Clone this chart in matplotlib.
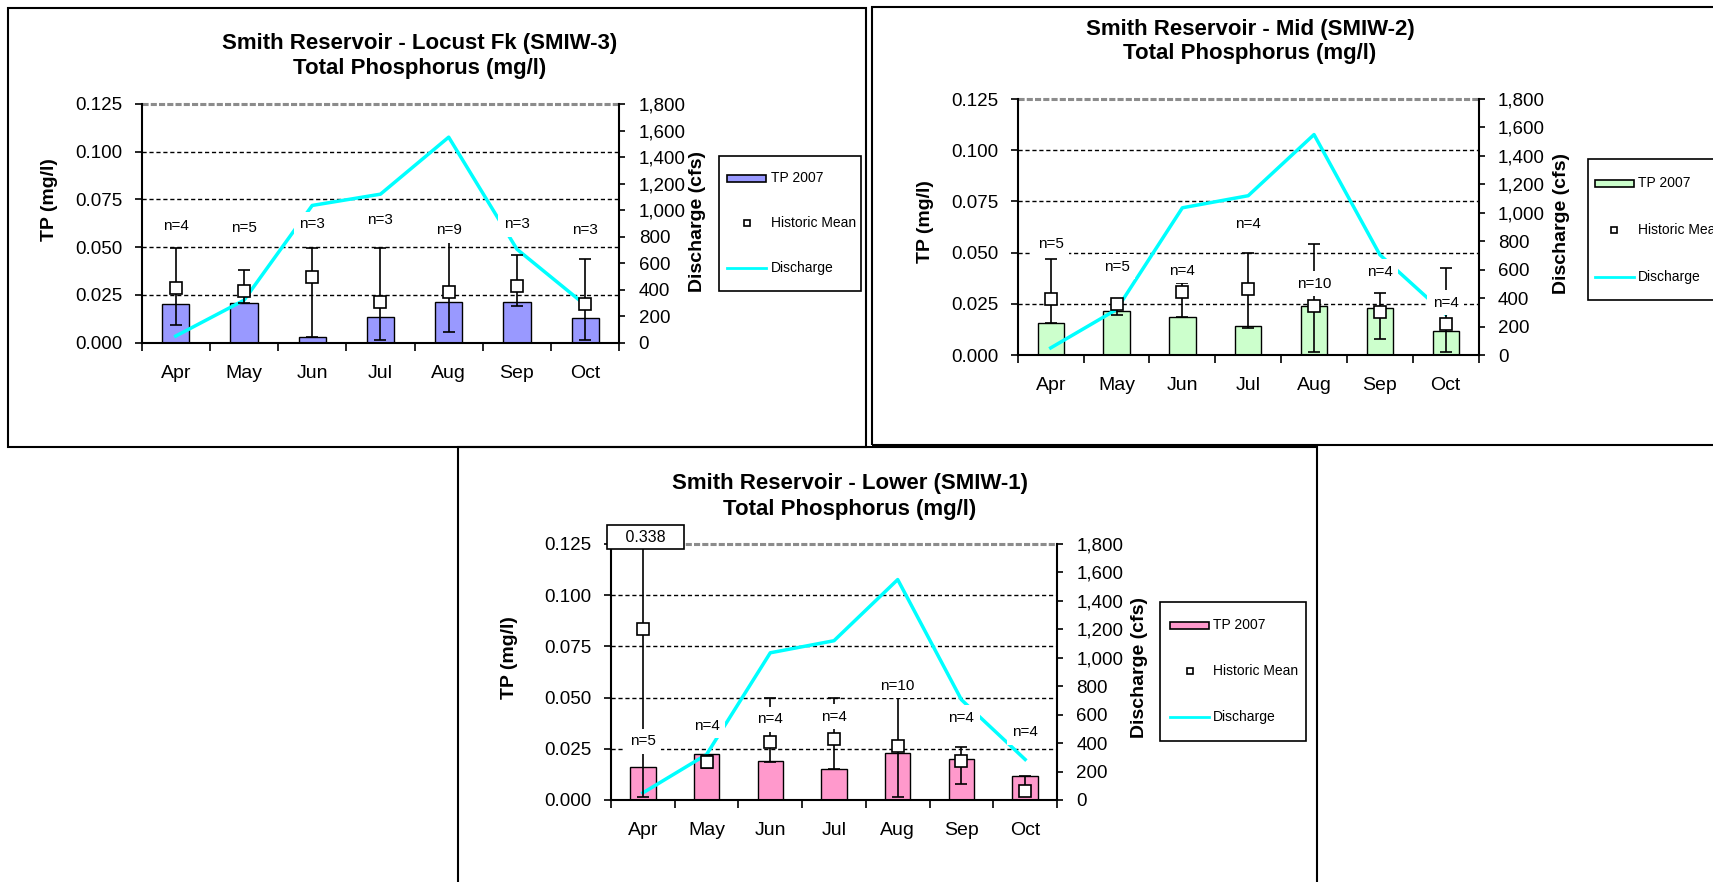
import matplotlib
matplotlib.use('Agg')
import matplotlib.pyplot as plt
from matplotlib.patches import Rectangle
from matplotlib.lines import Line2D
from matplotlib.ticker import FuncFormatter

plt.rcParams['font.family'] = ['Liberation Sans', 'DejaVu Sans']

# shared data
months = ['Apr', 'May', 'Jun', 'Jul', 'Aug', 'Sep', 'Oct']
discharge = [50, 320, 1035, 1120, 1550, 705, 285]

# Locust Fk (SMIW-3)
locust_tp = [0.0201, 0.0206, 0.0028, 0.0134, 0.0213, 0.0213, 0.0127]
locust_mean = [0.0286, 0.0269, 0.0346, 0.0215, 0.0265, 0.0299, 0.0201]
locust_hi = [0.0494, 0.0381, 0.0494, 0.0494, 0.0534, 0.0459, 0.0436]
locust_lo = [0.0093, 0.0206, 0.0028, 0.0014, 0.0054, 0.0192, 0.0014]
locust_n = [4, 5, 3, 3, 9, 3, 3]
locust_n_y = [0.061, 0.060, 0.062, 0.064, 0.059, 0.062, 0.059]

# Mid (SMIW-2)
mid_tp = [0.0158, 0.0216, 0.0186, 0.0142, 0.0239, 0.0229, 0.0119]
mid_mean = [0.0272, 0.0249, 0.0309, 0.0324, 0.0239, 0.0208, 0.0150]
mid_hi = [0.0467, 0.0273, 0.0353, 0.0496, 0.0540, 0.0303, 0.0423]
mid_lo = [0.0158, 0.0195, 0.0186, 0.0132, 0.0013, 0.0080, 0.0013]
mid_n = [5, 5, 4, 4, 10, 4, 4]
mid_n_y = [0.054, 0.0431, 0.0412, 0.064, 0.0348, 0.0407, 0.0256]

# Lower (SMIW-1)
lower_tp = [0.0163, 0.0223, 0.0192, 0.0150, 0.0231, 0.0200, 0.0117]
lower_mean = [0.0833, 0.0184, 0.0283, 0.0296, 0.0264, 0.0190, 0.0046]
lower_hi = [0.338, 0.0220, 0.0500, 0.0500, 0.0505, 0.0260, 0.0117]
lower_lo = [0.0016, 0.0155, 0.0187, 0.0150, 0.0013, 0.0076, 0.0020]
lower_n = [5, 4, 4, 4, 10, 4, 4]
lower_n_y = [0.0288, 0.0363, 0.0394, 0.0407, 0.0558, 0.0402, 0.033]

tp_ticks = [0.0, 0.025, 0.05, 0.075, 0.1, 0.125]
q_ticks = list(range(0, 1801, 200))

W, H = 1713, 882


def rect(x0, y0, x1, y1):
    return [x0 / W, 1 - y1 / H, (x1 - x0) / W, (y1 - y0) / H]


def draw_legend(fig, box, color, rows, patch_x, text_x):
    x0, y0, x1, y1 = box
    fig.add_artist(Rectangle((x0 / W, 1 - y1 / H), (x1 - x0) / W, (y1 - y0) / H,
                             transform=fig.transFigure, fc='white', ec='black', lw=1.2))
    r1, r2, r3 = rows
    fig.add_artist(Rectangle((patch_x / W, 1 - (r1 + 3.5) / H), 39 / W, 7 / H,
                             transform=fig.transFigure, fc=color, ec='black', lw=1.2))
    fig.add_artist(Line2D([(patch_x + 19.5) / W], [1 - r2 / H], transform=fig.transFigure,
                          marker='s', ms=5, mfc='white', mec='black', mew=1.2, ls='none'))
    fig.add_artist(Line2D([patch_x / W, (patch_x + 39) / W], [1 - r3 / H, 1 - r3 / H],
                          transform=fig.transFigure, color='#00FFFF', lw=2))
    for r, lab in zip(rows, ['TP 2007', 'Historic Mean', 'Discharge']):
        fig.text(text_x / W, 1 - r / H, lab, fontsize=10, ha='left', va='center')


def draw_panel(fig, lay, title, color, tp, mean, hi, lo, n, n_y):
    ax = fig.add_axes(rect(*lay['axes']))
    ax2 = ax.twinx()
    x = list(range(len(months)))

    ax.set_xlim(-0.5, len(months) - 0.5)
    ax.set_ylim(0, 0.125)
    ax2.set_ylim(0, 1800)

    for t in tp_ticks[1:-1]:
        ax.axhline(t, color='black', lw=1, ls=(0, (3, 2)), zorder=1)
    ax.axhline(0.125, color='#8c8c8c', lw=2.2, ls=(0, (2, 0.7)), zorder=1, clip_on=False)

    ax.bar(x, tp, width=0.4, color=color, edgecolor='black', linewidth=1, zorder=2)
    ax.plot(x, discharge, color='#00FFFF', lw=2.5, zorder=3, transform=ax2.transData)
    yerr = [[m - l for m, l in zip(mean, lo)], [h - m for h, m in zip(hi, mean)]]
    ax.errorbar(x, mean, yerr=yerr, fmt='none', ecolor='black', elinewidth=1.2,
                capsize=4, capthick=1.2, zorder=4)
    ax.plot(x, mean, 's', ms=8, mfc='white', mec='black', mew=1.2, zorder=5)
    for xi, yi, ni in zip(x, n_y, n):
        ax.text(xi, yi, f'n={ni}', ha='center', va='center', fontsize=11, zorder=6,
                bbox=dict(fc='white', ec='none', pad=4))

    ax.set_yticks(tp_ticks)
    ax.yaxis.set_major_formatter(FuncFormatter(lambda v, p: f'{v:.3f}'))
    ax.tick_params(axis='y', direction='out', length=5, width=1.2, pad=9, labelsize=13.5)
    ax2.set_yticks(q_ticks)
    ax2.yaxis.set_major_formatter(FuncFormatter(lambda v, p: f'{int(v):,}'))
    ax2.tick_params(axis='y', direction='out', length=4, width=1.2, pad=10, labelsize=13.5)

    ax.set_xticks(x)
    ax.set_xticklabels(months)
    ax.set_xticks([i - 0.5 for i in range(len(months) + 1)], minor=True)
    ax.tick_params(axis='x', which='major', length=0, pad=16, labelsize=14)
    ax.tick_params(axis='x', which='minor', direction='out', length=6, width=1.2)

    for a in (ax, ax2):
        a.spines['top'].set_visible(False)
        for s in ('left', 'right', 'bottom'):
            a.spines[s].set_linewidth(1.5)
    ax.spines['right'].set_visible(False)
    ax2.spines['left'].set_visible(False)
    ax2.spines['bottom'].set_visible(False)

    if hi[0] > 0.125:
        ax.annotate(f'   {hi[0]:.3f}   ', xy=(0, 0.125), xytext=(2, 5),
                    textcoords='offset points', ha='center', va='center', fontsize=11.5,
                    annotation_clip=False, zorder=7,
                    bbox=dict(boxstyle='square,pad=0.3', fc='white', ec='black', lw=1.2))

    tx, ty = lay['title']
    fig.text(tx / W, 1 - ty / H, title, ha='center', va='center', fontsize=16,
             fontweight='bold', linespacing=1.25)
    lx, ly = lay['ylabel']
    fig.text(lx / W, 1 - ly / H, 'TP (mg/l)', rotation=90, ha='center', va='center',
             fontsize=14, fontweight='bold')
    rx, ry = lay['y2label']
    fig.text(rx / W, 1 - ry / H, 'Discharge (cfs)', rotation=90, ha='center',
             va='center', fontsize=14, fontweight='bold')

    draw_legend(fig, lay['legend'], color, lay['rows'], lay['patch_x'], lay['text_x'])

    x0, y0, x1, y1 = lay['border']
    fig.add_artist(Rectangle((x0 / W, 1 - y1 / H), (x1 - x0) / W, (y1 - y0) / H,
                             transform=fig.transFigure, fill=False, ec='black', lw=1.5))


layouts = [
    dict(axes=(141.6, 104, 619.3, 342.7), title=(420, 56), ylabel=(49, 200),
         y2label=(697, 222), legend=(719, 156, 861, 291), rows=(178, 223, 268),
         patch_x=727, text_x=771, border=(8, 8, 866, 447)),
    dict(axes=(1017.8, 99, 1478.6, 355), title=(1250, 41.5), ylabel=(925, 222),
         y2label=(1562, 224), legend=(1588, 159, 1740, 300), rows=(183, 230, 277),
         patch_x=1594.5, text_x=1638, border=(872, 7, 1740, 445)),
    dict(axes=(611, 544, 1057, 800), title=(850, 496.5), ylabel=(509, 658),
         y2label=(1139, 668), legend=(1160, 602, 1306, 741), rows=(625, 671, 717),
         patch_x=1170, text_x=1213, border=(458, 447, 1317, 900)),
]

fig = plt.figure(figsize=(W / 100, H / 100), dpi=100)

draw_panel(fig, layouts[0], 'Smith Reservoir - Locust Fk (SMIW-3)\nTotal Phosphorus (mg/l)',
           '#9999FF', locust_tp, locust_mean, locust_hi, locust_lo, locust_n, locust_n_y)
draw_panel(fig, layouts[1], 'Smith Reservoir - Mid (SMIW-2)\nTotal Phosphorus (mg/l)',
           '#CCFFCC', mid_tp, mid_mean, mid_hi, mid_lo, mid_n, mid_n_y)
draw_panel(fig, layouts[2], 'Smith Reservoir - Lower (SMIW-1)\nTotal Phosphorus (mg/l)',
           '#FF99CC', lower_tp, lower_mean, lower_hi, lower_lo, lower_n, lower_n_y)

fig.savefig('out.png', dpi=100)
